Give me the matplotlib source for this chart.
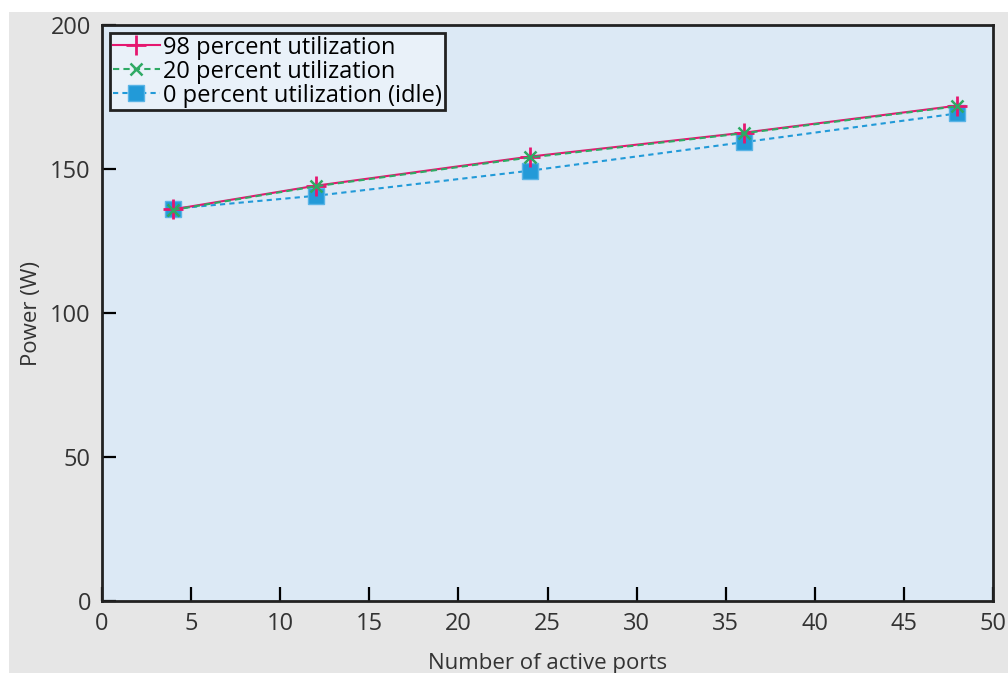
import matplotlib.pyplot as plt
from matplotlib.patches import Rectangle

# Measured switch power versus number of active ports
ports = [4, 12, 24, 36, 48]
power_98 = [136, 144.2, 154.3, 162.6, 172]
power_20 = [135.8, 144, 154, 162.4, 171.8]
power_idle = [136.2, 140.7, 149.4, 159.3, 169.3]

x_ticks = [0, 5, 10, 15, 20, 25, 30, 35, 40, 45, 50]
y_ticks = [0, 50, 100, 150, 200]

plt.rcParams['font.family'] = ['Open Sans', 'DejaVu Sans']

fig = plt.figure(figsize=(10.08, 6.73), dpi=100, facecolor="white")
# grey page panel behind the plot
fig.patches.append(Rectangle((9 / 1008, 0), 1 - 9 / 1008, 1 - 12 / 673,
                             transform=fig.transFigure, facecolor="#e6e6e6",
                             edgecolor="none", zorder=-10))

ax = fig.add_axes([102 / 1008, 1 - 601 / 673, (993 - 102) / 1008, (601 - 25) / 673])
ax.set_facecolor("#dce9f5")

ax.plot(ports, power_98, color="#e5176f", linewidth=1.5, marker="+",
        markersize=14, markeredgewidth=2, label="98 percent utilization", zorder=3)
ax.plot(ports, power_20, color="#2eaa64", linewidth=1.5, linestyle=(0, (3, 2)),
        marker="x", markersize=9, markeredgewidth=1.8,
        label="20 percent utilization", zorder=4)
ax.plot(ports, power_idle, color="#229ad8", linewidth=1.5, linestyle=(0, (2.5, 2)),
        marker="s", markersize=11, markeredgecolor="#5ab4e6",
        label="0 percent utilization (idle)", zorder=2)

ax.set_xlim(0, 50)
ax.set_ylim(0, 200)
ax.set_xticks(x_ticks)
ax.set_yticks(y_ticks)
ax.tick_params(direction="in", length=10, width=1.6, labelsize=17,
               labelcolor="#333333", pad=8)
for s in ax.spines.values():
    s.set_linewidth(2)
    s.set_color("#222222")

ax.set_xlabel("Number of active ports", fontsize=16, color="#333333", labelpad=12)
ax.set_ylabel("Power (W)", fontsize=16, color="#333333", labelpad=6)

leg = ax.legend(loc="upper left", fontsize=17, handlelength=2.0, handletextpad=0.15,
                borderpad=0.1, labelspacing=0.0, borderaxespad=0.35,
                fancybox=False, framealpha=1)
leg.get_frame().set_facecolor("#e9f1f9")
leg.get_frame().set_edgecolor("#222222")
leg.get_frame().set_linewidth(2)

fig.savefig("out.png", dpi=100)
